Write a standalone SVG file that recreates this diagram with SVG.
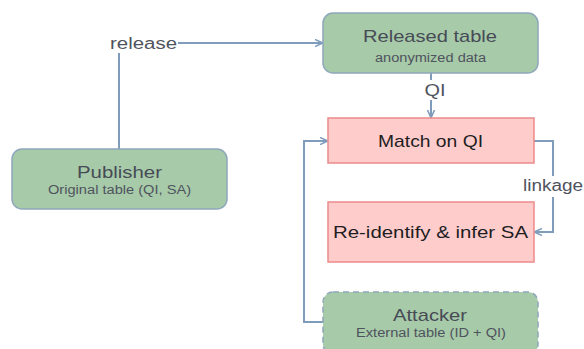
<svg xmlns="http://www.w3.org/2000/svg" width="584" height="349" viewBox="0 0 584 349">
  <style>
    .green { fill: #a7caa9; stroke: #8fa7bb; stroke-width: 1.5; }
    .dashed { stroke-dasharray: 6 4; }
    .red { fill: #ffcccc; stroke: #ec8a8a; stroke-width: 1.5; }
    .wire { fill: none; stroke: #7f9cbb; stroke-width: 2; }
    text { font-family: "Liberation Sans", Arial, sans-serif; text-anchor: middle; }
    .title { font-size: 17px; fill: #474b56; }
    .sub { font-size: 12.5px; fill: #4f535e; }
    .step { font-size: 17px; fill: #1e1e22; }
    .lbl { font-size: 16px; fill: #4f535e; }
  </style>
  <defs>
    <marker id="arrow" viewBox="0 0 10 10" refX="9" refY="5" markerWidth="8" markerHeight="8" orient="auto" markerUnits="userSpaceOnUse">
      <path d="M0,0.5 L10,5 L0,9.5" fill="none" stroke="#7f9cbb" stroke-width="2"/>
    </marker>
  </defs>
  <rect width="584" height="349" fill="#ffffff"/>

  <g id="connectors">
    <!-- Publisher -> Released table -->
    <path class="wire" d="M119,149 V43 H322" marker-end="url(#arrow)"/>
    <rect x="108" y="30" width="70" height="23" fill="#ffffff"/>
    <text class="lbl" x="143.5" y="49" textLength="67" lengthAdjust="spacingAndGlyphs">release</text>
    <!-- Released table -> Match on QI -->
    <path class="wire" d="M431,73 V117" marker-end="url(#arrow)"/>
    <rect x="420" y="80" width="24" height="20" fill="#ffffff"/>
    <text class="lbl" x="435" y="96" textLength="21" lengthAdjust="spacingAndGlyphs">QI</text>
    <!-- Match on QI -> Re-identify -->
    <path class="wire" d="M534,141 H553 V232 H535" marker-end="url(#arrow)"/>
    <rect x="521" y="176" width="63" height="21" fill="#ffffff"/>
    <text class="lbl" x="553" y="191" textLength="60" lengthAdjust="spacingAndGlyphs">linkage</text>
    <!-- Attacker -> Match on QI -->
    <path class="wire" d="M323,322 H304 V141 H327" marker-end="url(#arrow)"/>
  </g>

  <g id="released">
    <rect class="green" x="323" y="13" width="215" height="60" rx="10"/>
    <text class="title" x="430" y="42" textLength="134" lengthAdjust="spacingAndGlyphs">Released table</text>
    <text class="sub" x="430.5" y="62" textLength="111" lengthAdjust="spacingAndGlyphs">anonymized data</text>
  </g>

  <g id="publisher">
    <rect class="green" x="12" y="149" width="215" height="60" rx="10"/>
    <text class="title" x="119.5" y="178" textLength="85" lengthAdjust="spacingAndGlyphs">Publisher</text>
    <text class="sub" x="119.5" y="193.5" textLength="143" lengthAdjust="spacingAndGlyphs">Original table (QI, SA)</text>
  </g>

  <g id="match">
    <rect class="red" x="328" y="118" width="206" height="45"/>
    <text class="step" x="430.5" y="147" textLength="105" lengthAdjust="spacingAndGlyphs">Match on QI</text>
  </g>

  <g id="reidentify">
    <rect class="red" x="328" y="202" width="206" height="60"/>
    <text class="step" x="430.5" y="238" textLength="195" lengthAdjust="spacingAndGlyphs">Re-identify &amp; infer SA</text>
  </g>

  <g id="attacker">
    <rect class="green dashed" x="323" y="292" width="215" height="62" rx="10"/>
    <text class="title" x="430" y="320.5" textLength="74" lengthAdjust="spacingAndGlyphs">Attacker</text>
    <text class="sub" x="431" y="336.5" textLength="150" lengthAdjust="spacingAndGlyphs">External table (ID + QI)</text>
  </g>
</svg>
